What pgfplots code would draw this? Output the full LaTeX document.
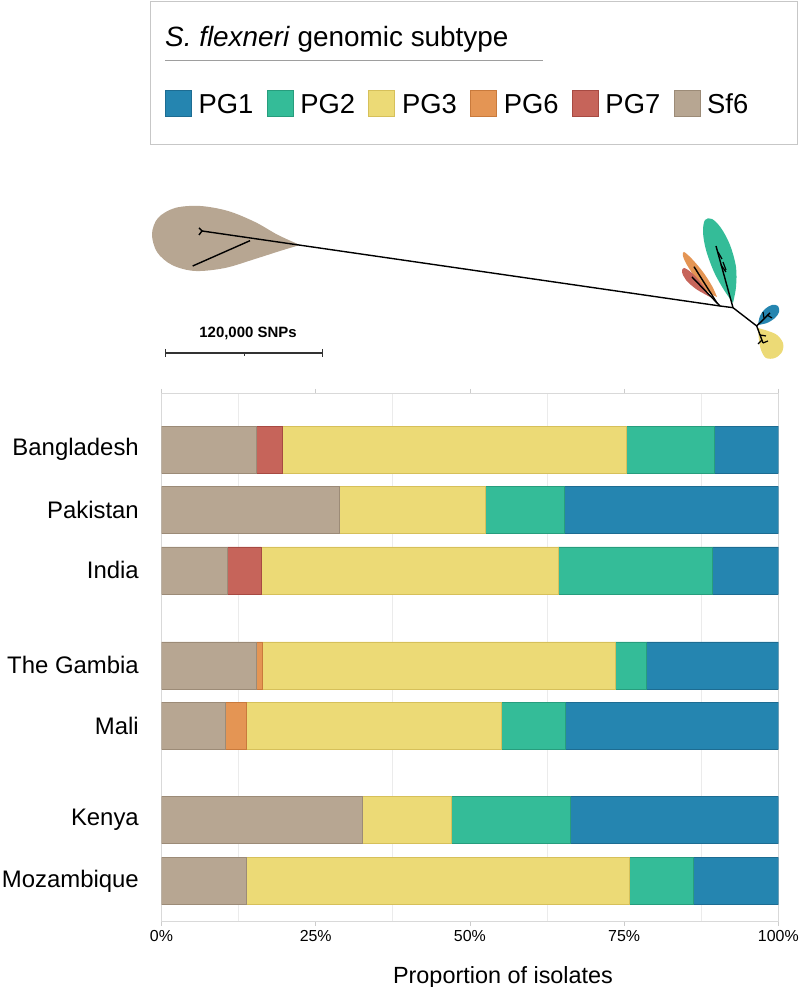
\documentclass[border=0pt]{standalone}
\usepackage{pgfplots}
\usepackage{pgfplotstable}
\pgfplotsset{compat=1.18}
\usepackage{fontspec}
\setmainfont{Liberation Sans}

\definecolor{pgone}{HTML}{2585B0}
\definecolor{pgoneD}{HTML}{1D6C92}
\definecolor{pgtwo}{HTML}{34BC98}
\definecolor{pgtwoD}{HTML}{279D7D}
\definecolor{pgthree}{HTML}{ECDA76}
\definecolor{pgthreeD}{HTML}{D6C05A}
\definecolor{pgsix}{HTML}{E49554}
\definecolor{pgsixD}{HTML}{C97A3C}
\definecolor{pgseven}{HTML}{C6645A}
\definecolor{pgsevenD}{HTML}{A74A42}
\definecolor{sfsix}{HTML}{B7A692}
\definecolor{sfsixD}{HTML}{9C8B77}

\pgfplotstableread{
y      Sf6   PG7  PG6  PG3   PG2   PG1
0      15.4  4.1  0    55.9  14.2  10.4
1      28.8  0    0    23.7  12.8  34.7
2      10.7  5.4  0    48.2  25.0  10.7
3.575  15.3  0    1.1  57.1  5.1   21.4
4.575  10.3  0    3.5  41.3  10.4  34.5
6.14   32.6  0    0    14.3  19.3  33.8
7.15   13.8  0    0    62.0  10.4  13.8
}\bardata

\begin{document}
\begin{tikzpicture}[x=1bp,y=1bp]
\path[use as bounding box] (0bp,0bp) rectangle (800bp,987bp);

% ---------- overlay: legend box, tree, scale bar ----------
\begin{axis}[
  at={(0bp,0bp)}, anchor=south west,
  width=800bp, height=987bp, scale only axis,
  xmin=0, xmax=800, ymin=0, ymax=987,
  hide axis, clip=false,
  legend columns=6,
  legend image code/.code={\draw[#1, line width=0.6bp] (0bp,-3bp) rectangle (26bp,23bp);},
  legend style={
    at={(0.20625,0.9088)}, anchor=north west,
    draw=none, fill=none, inner sep=0pt, outer sep=0pt,
    font=\fontsize{27.5}{30}\selectfont,
    nodes={inner sep=0pt, anchor=base west},
    /tikz/every odd column/.append style={column sep=7bp},
    /tikz/every even column/.append style={column sep=13.3bp},
  },
]
\addlegendimage{fill=pgone, draw=pgoneD}\addlegendentry{PG1}
\addlegendimage{fill=pgtwo, draw=pgtwoD}\addlegendentry{PG2}
\addlegendimage{fill=pgthree, draw=pgthreeD}\addlegendentry{PG3}
\addlegendimage{fill=pgsix, draw=pgsixD}\addlegendentry{PG6}
\addlegendimage{fill=pgseven, draw=pgsevenD}\addlegendentry{PG7}
\addlegendimage{fill=sfsix, draw=sfsixD}\addlegendentry{Sf6}

\draw[black!22, line width=1bp] (axis cs:150.5,985) rectangle (axis cs:797,842);
\node[anchor=base west, inner sep=0pt, font=\fontsize{28}{30}\selectfont]
  at (axis cs:165,940.3) {\textit{S. flexneri} genomic subtype};
\draw[black!38, line width=1.6bp] (axis cs:165,926.3) -- (axis cs:543,926.3);

% clades (y = 987 - pixel y)
\addplot[fill=sfsix, draw=none, smooth, tension=0.55] coordinates {
 (300,742) (278,752) (255,765) (228,776) (200,781) (175,779) (158,769) (152,753)
 (157,735) (172,722) (195,716) (225,719) (255,728) (280,736) (300,742)};
\addplot[fill=pgtwo, draw=none, smooth, tension=0.55] coordinates {
 (733,684) (736,700) (736,720) (730,742) (721,759) (712,768) (705,767) (703,755)
 (706,737) (714,715) (724,697) (733,684)};
\addplot[fill=pgsix, draw=none, smooth, tension=0.55] coordinates {
 (717,690) (712,701) (703,715) (692,728) (684,735) (683,731) (687,722) (697,707)
 (708,695) (717,690)};
\addplot[fill=pgseven, draw=none, smooth, tension=0.55] coordinates {
 (710,690) (702,703) (692,714) (684,719) (682,715) (686,707) (696,698) (710,690)};
\addplot[fill=pgone, draw=none, smooth, tension=0.55] coordinates {
 (758,662) (760,671) (765,678) (772,682) (778,681) (779,675) (775,669) (767,664) (758,662)};
\addplot[fill=pgthree, draw=none, smooth, tension=0.55] coordinates {
 (758,659) (768,656) (777,652) (783,644) (782,635) (775,629) (766,629) (761,637)
 (759,647) (758,659)};

% branches
\addplot[black, line width=1.4bp] coordinates {(202,756) (720,681) (733,679.3) (756.7,661)};
\addplot[black, line width=1.4bp] coordinates {(250,746.3) (192.7,721)};
\addplot[black, line width=1.4bp] coordinates {(199,759) (202,756) (199,752)};
\addplot[black, line width=1.4bp] coordinates {(720,681) (692,710)};
\addplot[black, line width=1.4bp] coordinates {(717,684) (694,720.3)};
\addplot[black, line width=1.4bp] coordinates {(733,679.3) (716,741)};
\addplot[black, line width=1.2bp] coordinates {(726,715) (721,722)};
\addplot[black, line width=1.2bp] coordinates {(722,728) (718,735)};
\addplot[black, line width=1.2bp] coordinates {(723,725) (726,717)};
\addplot[black, line width=1.4bp] coordinates {(756.7,661) (770,674)};
\addplot[black, line width=1.2bp] coordinates {(764,669) (763,675)};
\addplot[black, line width=1.2bp] coordinates {(767,672) (772,669)};
\addplot[black, line width=1.4bp] coordinates {(756.7,661) (763,644)};
\addplot[black, line width=1.2bp] coordinates {(760,652) (766,651)};
\addplot[black, line width=1.2bp] coordinates {(763,644) (768,646)};
\addplot[black, line width=1.2bp] coordinates {(762,647) (758,643)};

% scale bar
\addplot[black!80, line width=1.2bp] coordinates {(165.7,634) (322.7,634)};
\addplot[black!80, line width=1.2bp] coordinates {(165.7,638) (165.7,630)};
\addplot[black!80, line width=1.2bp] coordinates {(322.7,638) (322.7,630)};
\addplot[black!80, line width=1.0bp] coordinates {(244,634) (244,631)};
\node[anchor=base, inner sep=0pt, font=\fontsize{15}{17}\selectfont\bfseries]
  at (axis cs:248,649) {120,000 SNPs};
\end{axis}

% ---------- stacked bars ----------
\begin{axis}[
  at={(161.5bp,65.5bp)}, anchor=south west,
  width=616.8bp, height=528.5bp, scale only axis,
  xbar stacked, bar width=47bp,
  y dir=reverse,
  xmin=0, xmax=100, ymin=-0.94, ymax=7.82,
  ytick={0,1,2,3.575,4.575,6.14,7.15},
  yticklabels={Bangladesh,Pakistan,India,The Gambia,Mali,Kenya,Mozambique},
  xtick={0,25,50,75,100},
  xticklabel={\pgfmathprintnumber{\tick}\%},
  /pgf/number format/assume math mode=true,
  minor xtick={12.5,37.5,62.5,87.5},
  xminorgrids=true,
  minor grid style={black!8, line width=0.8bp},
  minor tick length=0pt,
  axis line style={black!15, line width=0.8bp},
  tick align=outside,
  x tick style={black!20, line width=0.8bp},
  major tick length=4bp,
  y tick style={draw=none},
  xticklabel style={font=\fontsize{16}{18}\selectfont, inner sep=0pt, anchor=north, yshift=-5bp},
  yticklabel style={font=\fontsize{24}{26}\selectfont, inner sep=0pt, anchor=east, xshift=-18.5bp},
  xlabel={Proportion of isolates},
  xlabel style={font=\fontsize{23.5}{26}\selectfont, inner sep=0pt, anchor=base,
                at={(axis description cs:0.5537,-0.1164)}},
  every axis plot/.append style={line width=0.5bp},
]
\addplot[fill=sfsix, draw=sfsixD] table[x=Sf6, y=y] {\bardata};
\addplot[fill=pgseven, draw=pgsevenD] table[x=PG7, y=y] {\bardata};
\addplot[fill=pgsix, draw=pgsixD] table[x=PG6, y=y] {\bardata};
\addplot[fill=pgthree, draw=pgthreeD] table[x=PG3, y=y] {\bardata};
\addplot[fill=pgtwo, draw=pgtwoD] table[x=PG2, y=y] {\bardata};
\addplot[fill=pgone, draw=pgoneD] table[x=PG1, y=y] {\bardata};
\end{axis}
\end{tikzpicture}
\end{document}
